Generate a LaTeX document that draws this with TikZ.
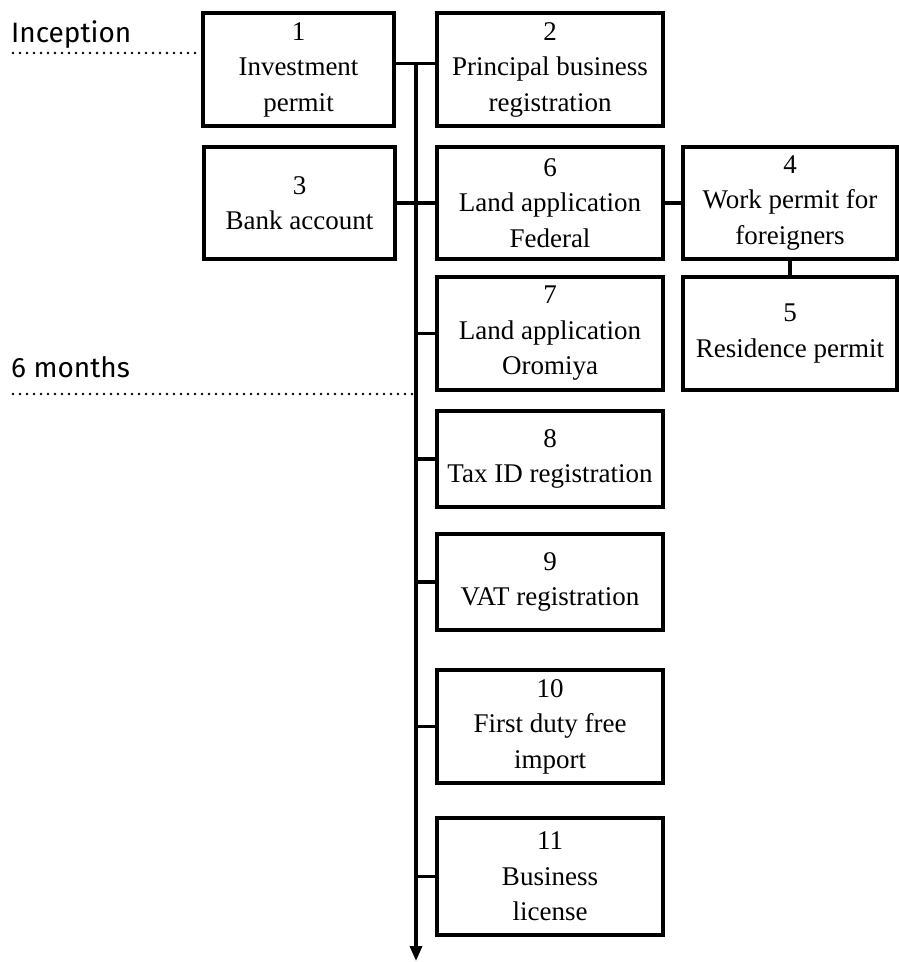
\documentclass[tikz,border=0pt]{standalone}
\usepackage{fontspec}
\setmainfont{Liberation Serif}
\newfontfamily\labelfont{Fira Sans}
\usetikzlibrary{calc,arrows.meta}
\begin{document}
\begin{tikzpicture}[x=1pt,y=-1pt,
  box/.style={draw,line width=3.4pt,rectangle,align=center,inner sep=0pt,
    font=\fontsize{27}{35.5}\selectfont},
  link/.style={line width=3.4pt},
  timeline/.style={line width=2.6pt,line cap=round,dash pattern=on 0pt off 7pt},
  tlabel/.style={anchor=base west,inner sep=0pt,font=\labelfont\fontsize{28}{32}\selectfont}]
\useasboundingbox (0,0) rectangle (899,962);
\node[box,minimum width=191pt,minimum height=113pt] (b1) at (298.5,69.5) {1\\Investment\\permit};
\node[box,minimum width=226pt,minimum height=113pt] (b2) at (550,69.5) {2\\Principal business\\registration};
\node[box,minimum width=191pt,minimum height=112pt] (b3) at (299.5,203) {3\\Bank account};
\node[box,minimum width=226pt,minimum height=112pt] (b6) at (550,203) {6\\Land application\\Federal};
\node[box,minimum width=214pt,minimum height=112pt] (b4) at (790,203) {4\\Work permit for\\foreigners};
\node[box,minimum width=226pt,minimum height=113pt] (b7) at (550,333.5) {7\\Land application\\Oromiya};
\node[box,minimum width=214pt,minimum height=113pt] (b5) at (790,333.5) {5\\Residence permit};
\node[box,minimum width=226pt,minimum height=96pt] (b8) at (550,459) {8\\Tax ID registration};
\node[box,minimum width=226pt,minimum height=96pt] (b9) at (550,582) {9\\VAT registration};
\node[box,minimum width=226pt,minimum height=113pt] (b10) at (550,726.5) {10\\First duty free\\import};
\node[box,minimum width=226pt,minimum height=117pt] (b11) at (550,876.5) {11\\Business\\license};
\coordinate (top) at (416,63);
\coordinate (bottom) at (416,961);
\node[tlabel] (inc) at (11,42) {Inception};
\node[tlabel] (six) at (11,377) {6 months};
\coordinate (incL) at (13,53);
\coordinate (sixL) at (13,394);
% timeline markers
\draw[timeline] (incL) -- (incL -| b1.west);
\draw[timeline] (sixL) -- (sixL -| top);
% spine
\draw[link,-{Triangle[length=15pt,width=12pt]}] (top) -- (bottom);
\draw[link] ($(b1.east)+(0,-6)$) -- ($(b2.west)+(0,-6)$);
\draw[link] (b3.east) -- (b6.west);
\draw[link] (b6.east) -- (b4.west);
\draw[link] (b4.south) -- (b5.north);
\draw[link] (b7.west) -- (b7.west -| top);
\draw[link] (b8.west) -- (b8.west -| top);
\draw[link] (b9.west) -- (b9.west -| top);
\draw[link] (b10.west) -- (b10.west -| top);
\draw[link] (b11.west) -- (b11.west -| top);
\end{tikzpicture}
\end{document}
